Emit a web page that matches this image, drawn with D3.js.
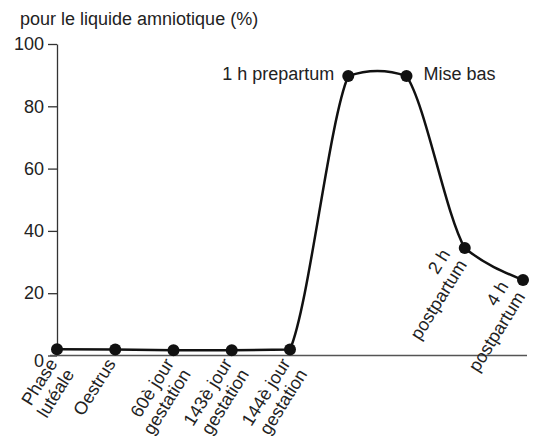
<!DOCTYPE html>
<html><head><meta charset="utf-8">
<script src="https://cdn.jsdelivr.net/npm/d3@7"></script>
<style>
html,body{margin:0;padding:0;background:#fff;}
text{font-family:"Liberation Sans",Arial,sans-serif;fill:#222;}
</style></head>
<body><svg id="c" width="539" height="441"></svg>
<script>
const categories = ["Phase lutéale","Oestrus","60è jour gestation","143è jour gestation","144è jour gestation","1 h prepartum","Mise bas","2 h postpartum","4 h postpartum"];
const values = [2.0, 1.9, 1.7, 1.7, 1.9, 89.7, 89.7, 34.5, 24.2];
const bottomLabels = [["Phase","lutéale"],["Oestrus"],["60è jour","gestation"],["143è jour","gestation"],["144è jour","gestation"]];
const postLabels = [["2 h","postpartum"],["4 h","postpartum"]];
const yTicks = [0,20,40,60,80,100];
const yTitle = "pour le liquide amniotique (%)";

// Custom d3 curve: straight segments before `startIndex`, then smooth
// Hermite segments with Catmull-Rom slopes limited per segment (hand-drawn look).
function curvePiecewise(startIndex) {
  return function(context) {
    return {
      areaStart(){}, areaEnd(){},
      lineStart(){ this._p = []; },
      point(x, y){ this._p.push([+x, +y]); },
      lineEnd(){
        const p = this._p, n = p.length;
        if (!n) return;
        const s = [];
        for (let i = 0; i < n - 1; i++) s.push((p[i+1][1]-p[i][1])/(p[i+1][0]-p[i][0]));
        const m = p.map((d,i)=> i===0 ? s[0] : i===n-1 ? s[n-2] : (s[i-1]+s[i])/2);
        const clamp = (v,l)=> Math.sign(v)*Math.min(Math.abs(v), l);
        context.moveTo(p[0][0], p[0][1]);
        for (let i = 0; i < n - 1; i++) {
          if (i < startIndex) { context.lineTo(p[i+1][0], p[i+1][1]); continue; }
          const h = p[i+1][0]-p[i][0];
          const lim = Math.max(1.5*Math.abs(s[i]), 0.35);
          const a = clamp(m[i], lim);
          const b = (i+1 === n-1) ? (3*s[i]-a)/2 : clamp(m[i+1], lim);
          context.bezierCurveTo(p[i][0]+h/3, p[i][1]+a*h/3, p[i+1][0]-h/3, p[i+1][1]-b*h/3, p[i+1][0], p[i+1][1]);
        }
      }
    };
  };
}

const svg = d3.select("#c");
const x = d3.scalePoint().domain(categories).range([57,523]);
const y = d3.scaleLinear().domain([0,100]).range([355.5,44]);
const fs = 18;

svg.append("text").attr("x",20).attr("y",25).attr("font-size",fs).text(yTitle);

// y axis
const ya = svg.append("g").attr("transform","translate(57,0)")
  .call(d3.axisLeft(y).tickValues(yTicks).tickSize(9).tickPadding(4).tickSizeOuter(0));
ya.select(".domain").attr("stroke","#333").attr("stroke-width",1.3);
ya.selectAll(".tick line").attr("stroke","#333").attr("stroke-width",1.3);
ya.selectAll(".tick text").attr("font-size",fs).attr("font-family","Liberation Sans, Arial, sans-serif").attr("fill","#222");
ya.selectAll(".tick").filter(d=>d===0).select("text").attr("dy","0.62em");

// x axis line
svg.append("line").attr("x1",50).attr("x2",527).attr("y1",y(0)).attr("y2",y(0))
  .attr("stroke","#555").attr("stroke-width",1.5);

// data line
const line = d3.line().x((d,i)=>x(categories[i])).y(d=>y(d)).curve(curvePiecewise(4));
svg.append("path").datum(values).attr("d",line).attr("fill","none")
  .attr("stroke","#111").attr("stroke-width",2.5).attr("stroke-linejoin","round");
svg.selectAll("circle.pt").data(values).join("circle").attr("class","pt")
  .attr("cx",(d,i)=>x(categories[i])).attr("cy",d=>y(d)).attr("r",6).attr("fill","#111");

// bottom labels
const ang = -58;
bottomLabels.forEach((lines,i)=>{
  const cx = x(categories[i]) + 1, cy = y(0) + 8;
  const t = svg.append("text").attr("transform",`translate(${cx},${cy}) rotate(${ang})`)
    .attr("text-anchor","end").attr("font-size",fs);
  lines.forEach((s,j)=>t.append("tspan").attr("x",0).attr("dy", j===0?"0":"1.1em").text(s));
});
// postpartum labels
postLabels.forEach((lines,k)=>{
  const i = 7 + k;
  const cx = x(categories[i]) - 14, cy = y(values[i]) + 6;
  const t = svg.append("text").attr("transform",`translate(${cx},${cy}) rotate(${ang})`)
    .attr("text-anchor","end").attr("font-size",fs);
  lines.forEach((s,j)=>t.append("tspan").attr("x",0).attr("dy", j===0?"0":"1.1em").text(s));
});
// top labels
svg.append("text").attr("x",x(categories[5])-14).attr("y",y(values[5])+4).attr("text-anchor","end").attr("font-size",fs).text("1 h prepartum");
svg.append("text").attr("x",x(categories[6])+17).attr("y",y(values[6])+4).attr("font-size",fs).text("Mise bas");
</script></body></html>
